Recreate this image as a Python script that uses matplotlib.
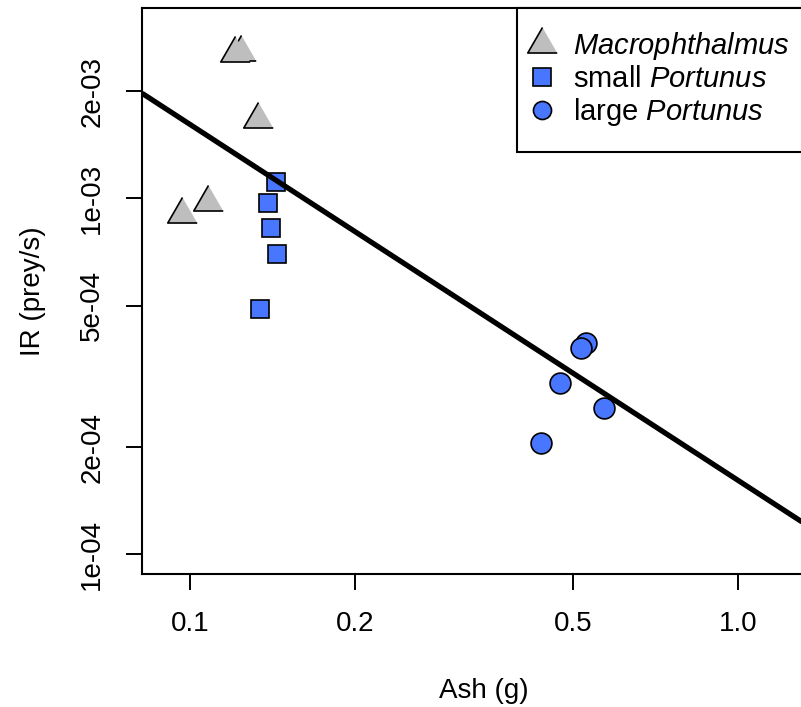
import numpy as np
import matplotlib
matplotlib.use('Agg')
import matplotlib.pyplot as plt
from matplotlib.lines import Line2D
from matplotlib.patches import Rectangle

plt.rcParams['font.family'] = ['Liberation Sans', 'DejaVu Sans']
plt.rcParams['mathtext.fontset'] = 'custom'
plt.rcParams['mathtext.rm'] = 'Liberation Sans'
plt.rcParams['mathtext.it'] = 'Liberation Sans:italic'

# --- data ---
mac_ash = [0.124, 0.121, 0.133, 0.108, 0.0966]
mac_ir = [2.572e-3, 2.555e-3, 1.675e-3, 0.978e-3, 0.906e-3]

small_ash = [0.1434, 0.1390, 0.1405, 0.1442, 0.1344]
small_ir = [1.112e-3, 0.971e-3, 0.826e-3, 0.700e-3, 0.488e-3]

large_ash = [0.528, 0.516, 0.473, 0.569, 0.4365]
large_ir = [3.92e-4, 3.795e-4, 3.038e-4, 2.574e-4, 2.053e-4]

# fitted line in log10 space: log10(IR) = b0 + b1 * log10(Ash)
b0, b1 = -3.792, -1.0

x_ticks = [0.1, 0.2, 0.5, 1.0]
x_ticklabels = ['0.1', '0.2', '0.5', '1.0']
y_ticks = [1e-4, 2e-4, 5e-4, 1e-3, 2e-3]
y_ticklabels = ['1e-04', '2e-04', '5e-04', '1e-03', '2e-03']

gray = '#BEBEBE'
blue = '#4876FF'

# --- figure ---
W, H = 801, 707
fig = plt.figure(figsize=(W / 100, H / 100), dpi=100)
ax = fig.add_axes([142 / W, 133 / H, 684.5 / W, 566 / H])
ax.set_xscale('log')
ax.set_yscale('log')
xlim = (0.08174, 1.45)
ax.set_xlim(xlim)
ax.set_ylim(8.81e-5, 3.428e-3)

tri = [(0, 1), (-0.866, -0.5), (0.866, -0.5)]

ax.plot(mac_ash, mac_ir, linestyle='none', marker=tri, markersize=24.5,
        markerfacecolor=gray, markeredgecolor='black', markeredgewidth=1.2)
ax.plot(small_ash, small_ir, linestyle='none', marker='s', markersize=13.3,
        markerfacecolor=blue, markeredgecolor='black', markeredgewidth=1.2)
ax.plot(large_ash, large_ir, linestyle='none', marker='o', markersize=15,
        markerfacecolor=blue, markeredgecolor='black', markeredgewidth=1.2)

# regression line across the full plot
xl = np.array(xlim)
ax.plot(xl, 10 ** (b0 + b1 * np.log10(xl)), color='black', linewidth=3.8,
        solid_capstyle='butt')

# --- axes styling ---
ax.xaxis.set_minor_locator(matplotlib.ticker.NullLocator())
ax.yaxis.set_minor_locator(matplotlib.ticker.NullLocator())
ax.set_xticks(x_ticks)
ax.set_xticklabels(x_ticklabels)
ax.set_yticks(y_ticks)
ax.set_yticklabels(y_ticklabels, rotation=90, va='center')
ax.tick_params(length=11.5, width=1.4, labelsize=20, pad=15)

for sp in ax.spines.values():
    sp.set_linewidth(1.5)

ax.set_xlabel('Ash (g)', fontsize=20, labelpad=30)
ax.set_ylabel('IR (prey/s)', fontsize=20, labelpad=24)

# --- legend (frame drawn separately, it runs off the right edge) ---
fig.add_artist(Rectangle((517 / W, (H - 152) / H), 320 / W, 144 / H,
                         transform=fig.transFigure, facecolor='white',
                         edgecolor='black', linewidth=1.5, zorder=3))

handles = [
    Line2D([], [], linestyle='none', marker=tri, markersize=24.5,
           markerfacecolor=gray, markeredgecolor='black', markeredgewidth=1.2),
    Line2D([], [], linestyle='none', marker='s', markersize=12.5,
           markerfacecolor=blue, markeredgecolor='black', markeredgewidth=1.2),
    Line2D([], [], linestyle='none', marker='o', markersize=13,
           markerfacecolor=blue, markeredgecolor='black', markeredgewidth=1.2),
]
labels = ['$\\mathit{Macrophthalmus}$', 'small $\\mathit{Portunus}$',
          'large $\\mathit{Portunus}$']
leg = fig.legend(handles, labels, loc='upper left',
                 bbox_to_anchor=(530.6 / W, (H - 30) / H),
                 bbox_transform=fig.transFigure, fontsize=21,
                 frameon=False, borderpad=0,
                 handlelength=0.8, handletextpad=0.64, labelspacing=0.1,
                 borderaxespad=0)
leg.set_zorder(4)

fig.savefig('out.png', dpi=100)
